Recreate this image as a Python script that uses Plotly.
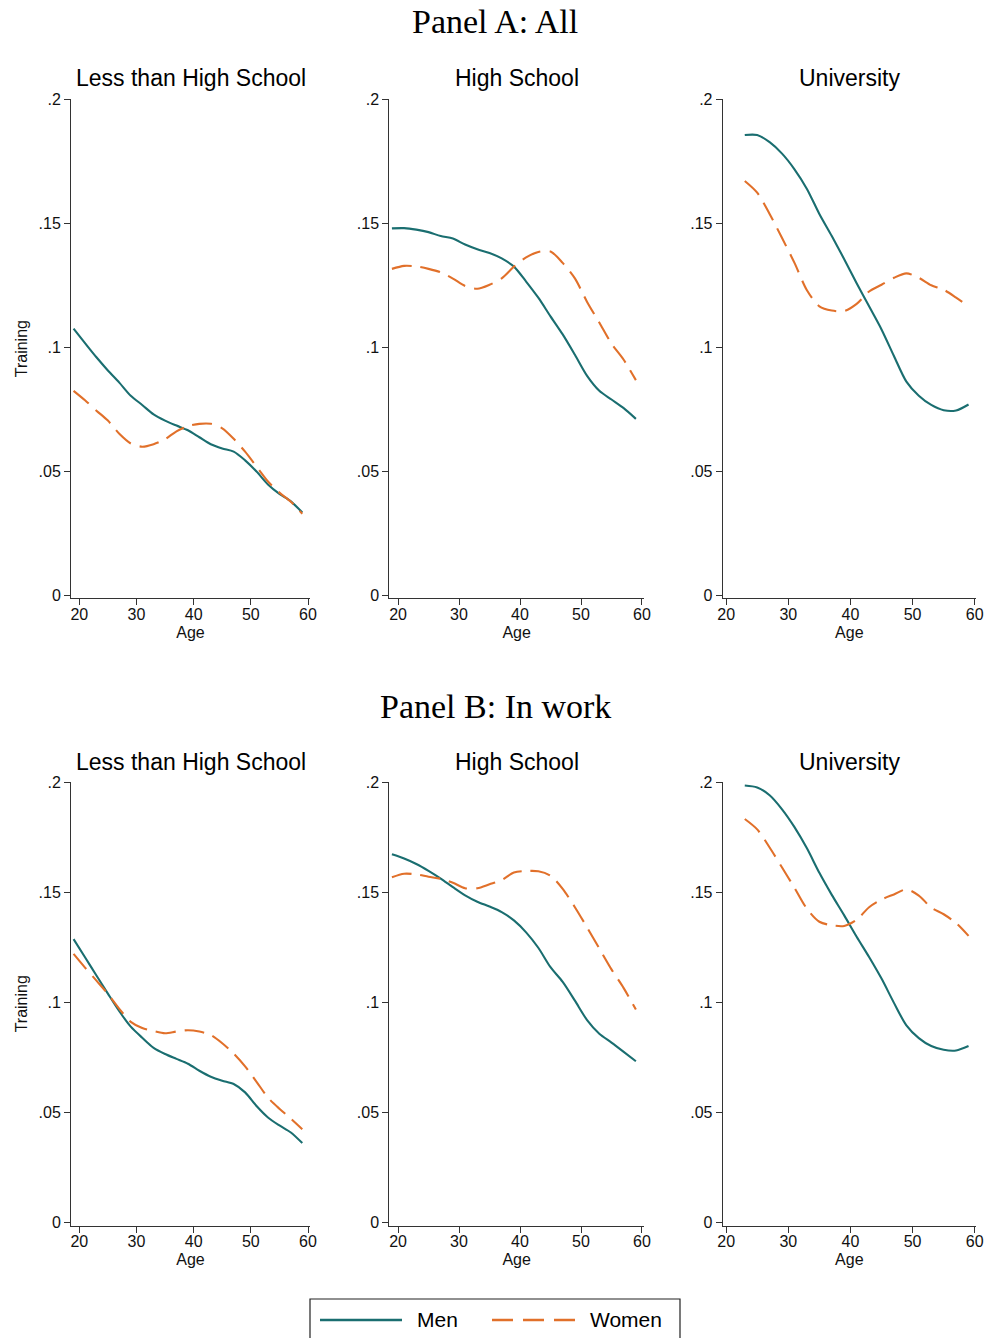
import plotly.graph_objects as go

# Ages at which the smoothed training rates are evaluated
AGES = list(range(19, 60, 2))      # 19 .. 59
AGES_UNI = list(range(23, 60, 2))  # 23 .. 59 (university graduates)

EDU_GROUPS = ["Less than High School", "High School", "University"]
PANELS = ["Panel A: All", "Panel B: In work"]

# Panel A: All
a_lths_men = [0.1075, 0.1017, 0.0960, 0.0907, 0.0858, 0.0805, 0.0768, 0.0730, 0.0705, 0.0685, 0.0666,
              0.0638, 0.0610, 0.0593, 0.0580, 0.0545, 0.0500, 0.0448, 0.0410, 0.0380, 0.0335]
a_lths_women = [0.0825, 0.0787, 0.0745, 0.0705, 0.0652, 0.0613, 0.0600, 0.0610, 0.0630, 0.0662, 0.0683,
                0.0692, 0.0692, 0.0674, 0.0632, 0.0580, 0.0520, 0.0460, 0.0415, 0.0378, 0.0330]
a_hs_men = [0.1479, 0.1480, 0.1474, 0.1464, 0.1448, 0.1438, 0.1414, 0.1395, 0.1380, 0.1358, 0.1325,
            0.1265, 0.1200, 0.1125, 0.1052, 0.0970, 0.0885, 0.0825, 0.0790, 0.0755, 0.0712]
a_hs_women = [0.1316, 0.1328, 0.1326, 0.1316, 0.1302, 0.1277, 0.1247, 0.1236, 0.1252, 0.1278, 0.1325,
              0.1362, 0.1384, 0.1386, 0.1340, 0.1278, 0.1183, 0.1100, 0.1015, 0.0950, 0.0868]
a_uni_men = [0.1855, 0.1855, 0.1826, 0.1780, 0.1717, 0.1638, 0.1537, 0.1448, 0.1355, 0.1258, 0.1165,
             0.1072, 0.0965, 0.0862, 0.0805, 0.0768, 0.0747, 0.0746, 0.0770]
a_uni_women = [0.1670, 0.1623, 0.1537, 0.1440, 0.1340, 0.1230, 0.1165, 0.1148, 0.1146, 0.1175, 0.1225,
               0.1252, 0.1280, 0.1298, 0.1280, 0.1250, 0.1232, 0.1200, 0.1165]

# Panel B: In work
b_lths_men = [0.1287, 0.1205, 0.1122, 0.1040, 0.0960, 0.0890, 0.0840, 0.0794, 0.0766, 0.0744, 0.0722,
              0.0690, 0.0663, 0.0645, 0.0630, 0.0592, 0.0530, 0.0478, 0.0442, 0.0410, 0.0362]
b_lths_women = [0.1220, 0.1158, 0.1099, 0.1039, 0.0971, 0.0912, 0.0884, 0.0870, 0.0860, 0.0868, 0.0874,
                0.0868, 0.0852, 0.0815, 0.0768, 0.0710, 0.0640, 0.0568, 0.0518, 0.0473, 0.0425]
b_hs_men = [0.1672, 0.1653, 0.1628, 0.1597, 0.1562, 0.1523, 0.1486, 0.1457, 0.1435, 0.1410, 0.1372,
            0.1318, 0.1248, 0.1160, 0.1093, 0.1008, 0.0920, 0.0858, 0.0818, 0.0776, 0.0733]
b_hs_women = [0.1568, 0.1584, 0.1581, 0.1570, 0.1561, 0.1543, 0.1518, 0.1518, 0.1536, 0.1555, 0.1589,
              0.1596, 0.1595, 0.1575, 0.1515, 0.1432, 0.1340, 0.1245, 0.1150, 0.1065, 0.0968]
b_uni_men = [0.1984, 0.1975, 0.1940, 0.1876, 0.1795, 0.1699, 0.1588, 0.1488, 0.1395, 0.1298, 0.1206,
             0.1108, 0.0998, 0.0896, 0.0838, 0.0802, 0.0785, 0.0782, 0.0802]
b_uni_women = [0.1832, 0.1785, 0.1703, 0.1612, 0.1520, 0.1425, 0.1366, 0.1350, 0.1347, 0.1375, 0.1432,
               0.1467, 0.1490, 0.1513, 0.1485, 0.1430, 0.1400, 0.1360, 0.1302]

Y_TICKS = [0, 0.05, 0.1, 0.15, 0.2]
Y_TICKTEXT = ["0", ".05", ".1", ".15", ".2"]
X_TICKS = [20, 30, 40, 50, 60]

MEN_COLOR = "#1a6e70"
WOMEN_COLOR = "#e1702a"
AXIS_COLOR = "#333333"
SANS = "Liberation Sans, Arial, sans-serif"
SERIF = "Liberation Serif, Times New Roman, serif"

W, H = 987, 1338

def fx(p):
    return p / W

def fy(p):
    return 1 - p / H

# Plot-area geometry for each column (left px, right px, age range)
COLS = [
    (71.0, 310.0, [18.55, 60.35]),
    (389.3, 644.0, [18.57, 60.33]),
    (722.7, 976.0, [19.45, 60.2]),
]
# Plot-area geometry for each row (bottom px, top px, value range, title px, panel title px)
ROWS = [
    (598.3, 99.0, [-0.00105, 0.2], 78, 22),
    (1225.5, 782.0, [-0.0012, 0.2], 762, 706),
]

series = [
    [(AGES, a_lths_men, a_lths_women), (AGES, a_hs_men, a_hs_women), (AGES_UNI, a_uni_men, a_uni_women)],
    [(AGES, b_lths_men, b_lths_women), (AGES, b_hs_men, b_hs_women), (AGES_UNI, b_uni_men, b_uni_women)],
]

fig = go.Figure()
layout_axes = {}
annotations = []

k = 0
for r, (ybot, ytop, yrange, title_y, panel_y) in enumerate(ROWS):
    for c, (xl, xr, xrange) in enumerate(COLS):
        k += 1
        xa = "x" if k == 1 else f"x{k}"
        ya = "y" if k == 1 else f"y{k}"
        ages, men, women = series[r][c]
        fig.add_trace(go.Scatter(
            x=ages, y=men, xaxis=xa, yaxis=ya, mode="lines", name="Men",
            line=dict(color=MEN_COLOR, width=2.1, shape="spline", smoothing=0.8),
            showlegend=False,
        ))
        fig.add_trace(go.Scatter(
            x=ages, y=women, xaxis=xa, yaxis=ya, mode="lines", name="Women",
            line=dict(color=WOMEN_COLOR, width=2.1, dash="20px,9px", shape="spline", smoothing=0.8),
            showlegend=False,
        ))
        xkey = "xaxis" if k == 1 else f"xaxis{k}"
        ykey = "yaxis" if k == 1 else f"yaxis{k}"
        layout_axes[xkey] = dict(
            domain=[fx(xl), fx(xr)], range=xrange, anchor=ya, automargin=False,
            tickvals=X_TICKS, ticks="outside", ticklen=6, tickwidth=1, tickcolor=AXIS_COLOR,
            ticklabelstandoff=-5,
            showline=True, linecolor=AXIS_COLOR, linewidth=1, showgrid=False, zeroline=False,
            tickfont=dict(family=SANS, size=16, color="#111"),
            title=dict(text="Age", font=dict(family=SANS, size=16, color="#111"), standoff=5),
        )
        ydict = dict(
            domain=[fy(ybot), fy(ytop)], range=yrange, anchor=xa, automargin=False,
            tickvals=Y_TICKS, ticktext=Y_TICKTEXT, ticks="outside", ticklen=6, tickwidth=1,
            tickcolor=AXIS_COLOR, showline=True, linecolor=AXIS_COLOR, linewidth=1,
            showgrid=False, zeroline=False,
            tickfont=dict(family=SANS, size=16, color="#111"),
        )
        if c == 0:
            ydict["title"] = dict(text="Training", font=dict(family=SANS, size=16, color="#111"),
                                  standoff=6)
        layout_axes[ykey] = ydict
        annotations.append(dict(
            text=EDU_GROUPS[c], xref="paper", yref="paper",
            x=fx((xl + xr) / 2), y=fy(title_y), xanchor="center", yanchor="middle",
            showarrow=False, font=dict(family=SANS, size=23, color="#000"),
        ))
    annotations.append(dict(
        text=PANELS[r], xref="paper", yref="paper",
        x=fx(495), y=fy(panel_y), xanchor="center", yanchor="middle",
        showarrow=False, font=dict(family=SERIF, size=34, color="#000"),
    ))

# Legend key drawn below the grid of panels
LEG_TOP, LEG_MID = 1299, 1320
shapes = [
    dict(type="rect", xref="paper", yref="paper", x0=fx(310), x1=fx(680), y0=fy(1345), y1=fy(LEG_TOP),
         line=dict(color="#222", width=1.2), fillcolor="rgba(0,0,0,0)"),
    dict(type="line", xref="paper", yref="paper", x0=fx(320), x1=fx(402), y0=fy(LEG_MID), y1=fy(LEG_MID),
         line=dict(color=MEN_COLOR, width=2.6)),
    dict(type="line", xref="paper", yref="paper", x0=fx(492), x1=fx(575), y0=fy(LEG_MID), y1=fy(LEG_MID),
         line=dict(color=WOMEN_COLOR, width=2.6, dash="21px,10px")),
]
annotations += [
    dict(text="Men", xref="paper", yref="paper", x=fx(415), y=fy(LEG_MID - 0.5), xanchor="left",
         yanchor="middle", showarrow=False, font=dict(family=SANS, size=21, color="#000")),
    dict(text="Women", xref="paper", yref="paper", x=fx(588), y=fy(LEG_MID - 0.5), xanchor="left",
         yanchor="middle", showarrow=False, font=dict(family=SANS, size=21, color="#000")),
]

fig.update_layout(
    template="none",
    width=W, height=H, margin=dict(l=0, r=0, t=0, b=0, autoexpand=False),
    paper_bgcolor="white", plot_bgcolor="white",
    showlegend=False, annotations=annotations, shapes=shapes,
    **layout_axes,
)

fig.write_html("out.html")
